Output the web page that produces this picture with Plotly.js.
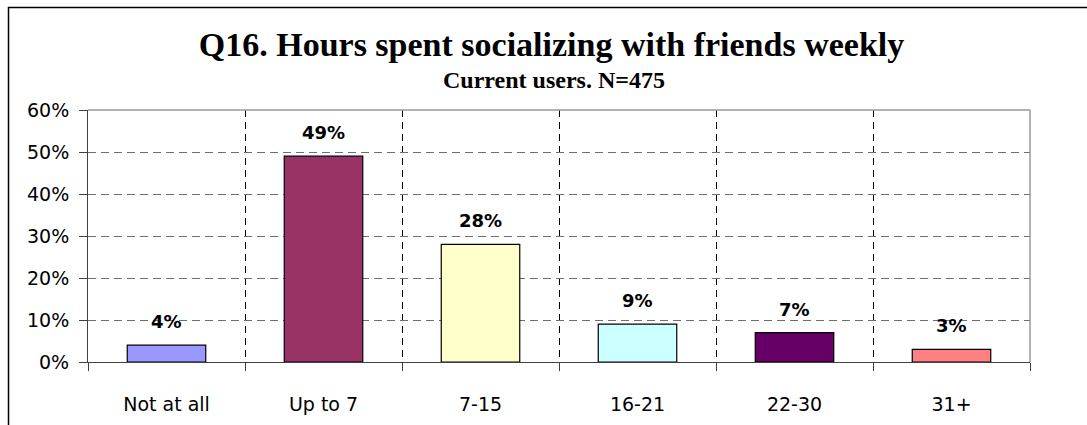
<!DOCTYPE html>
<html>
<head>
<meta charset="utf-8">
<script src="https://cdn.plot.ly/plotly-3.0.1.min.js"></script>
<style>html,body{margin:0;padding:0;background:#fff;}#chart{width:1087px;height:425px;}</style>
</head>
<body>
<div id="chart"></div>
<script>
const categories = ["Not at all", "Up to 7", "7-15", "16-21", "22-30", "31+"];
const values = [0.04, 0.49, 0.28, 0.09, 0.07, 0.03];
const valueLabels = ["4%", "49%", "28%", "9%", "7%", "3%"];
const barColors = ["#9999FF", "#993366", "#FFFFCC", "#CCFFFF", "#660066", "#FF8080"];
const yTickVals = [0, 0.1, 0.2, 0.3, 0.4, 0.5, 0.6];
const yTickText = ["0%", "10%", "20%", "30%", "40%", "50%", "60%"];
const titleText = "Q16. Hours spent socializing with friends weekly";
const subtitleText = "Current users. N=475";

const W = 1087, H = 425;
const L = 88, R = 1030, T = 110, B = 362;
const px = v => (v - L) / (R - L);
const py = v => (B - v) / (B - T);

const trace = {
  type: "bar",
  x: categories,
  y: values,
  width: 0.5,
  marker: { color: barColors, line: { color: "#000000", width: 1.2 } },
  hoverinfo: "none"
};

const annotations = categories.map((c, i) => ({
  x: c, y: values[i], xref: "x", yref: "y",
  text: valueLabels[i], showarrow: false,
  yanchor: "bottom", yshift: 11,
  font: { family: "DejaVu Sans", size: 18, color: "#000", weight: "bold" }
}));
annotations.push({
  xref: "paper", yref: "paper", x: px(554), y: py(80),
  xanchor: "center", yanchor: "middle", showarrow: false,
  text: "<b>" + subtitleText + "</b>",
  font: { family: "Liberation Serif", size: 24, color: "#000" }
});

const layout = {
  width: W, height: H,
  margin: { l: L, r: W - R, t: T, b: H - B, pad: 0 },
  paper_bgcolor: "#ffffff", plot_bgcolor: "#ffffff",
  showlegend: false,
  title: {
    text: "<b>" + titleText + "</b>",
    xref: "container", yref: "container",
    x: 551.5 / W, y: 1 - 44 / H, xanchor: "center", yanchor: "middle",
    font: { family: "Liberation Serif", size: 34, color: "#000" }
  },
  xaxis: {
    type: "category",
    tickson: "boundaries",
    ticks: "outside", ticklen: 8, tickcolor: "#404040", tickwidth: 1,
    showline: true, linecolor: "#404040", linewidth: 1,
    showgrid: true, gridcolor: "#000000", gridwidth: 1, griddash: "7px,5px",
    ticklabelstandoff: 25,
    tickfont: { family: "DejaVu Sans", size: 19, color: "#000" },
    fixedrange: true
  },
  yaxis: {
    range: [0, 0.6],
    tickvals: yTickVals, ticktext: yTickText,
    ticks: "outside", ticklen: 8, tickcolor: "#404040", tickwidth: 1,
    showline: true, linecolor: "#404040", linewidth: 1,
    showgrid: true, gridcolor: "#6e6e6e", gridwidth: 1, griddash: "8px,5px",
    zeroline: false,
    ticklabelstandoff: 6,
    tickfont: { family: "DejaVu Sans", size: 19, color: "#000" },
    fixedrange: true
  },
  annotations: annotations,
  shapes: [
    { type: "line", xref: "paper", yref: "paper", x0: 0, x1: 1, y0: 1, y1: 1,
      line: { color: "#999999", width: 1.5 }, layer: "above" },
    { type: "line", xref: "paper", yref: "paper", x0: 1, x1: 1, y0: 0, y1: 1,
      line: { color: "#999999", width: 1.5 }, layer: "above" },
    { type: "rect", xref: "paper", yref: "paper",
      x0: px(8.5), x1: px(1100), y0: py(440), y1: py(7.5),
      line: { color: "#000000", width: 1.5 }, fillcolor: "rgba(0,0,0,0)", layer: "above" }
  ]
};

Plotly.newPlot("chart", [trace], layout, { displayModeBar: false, staticPlot: true });
</script>
</body>
</html>
